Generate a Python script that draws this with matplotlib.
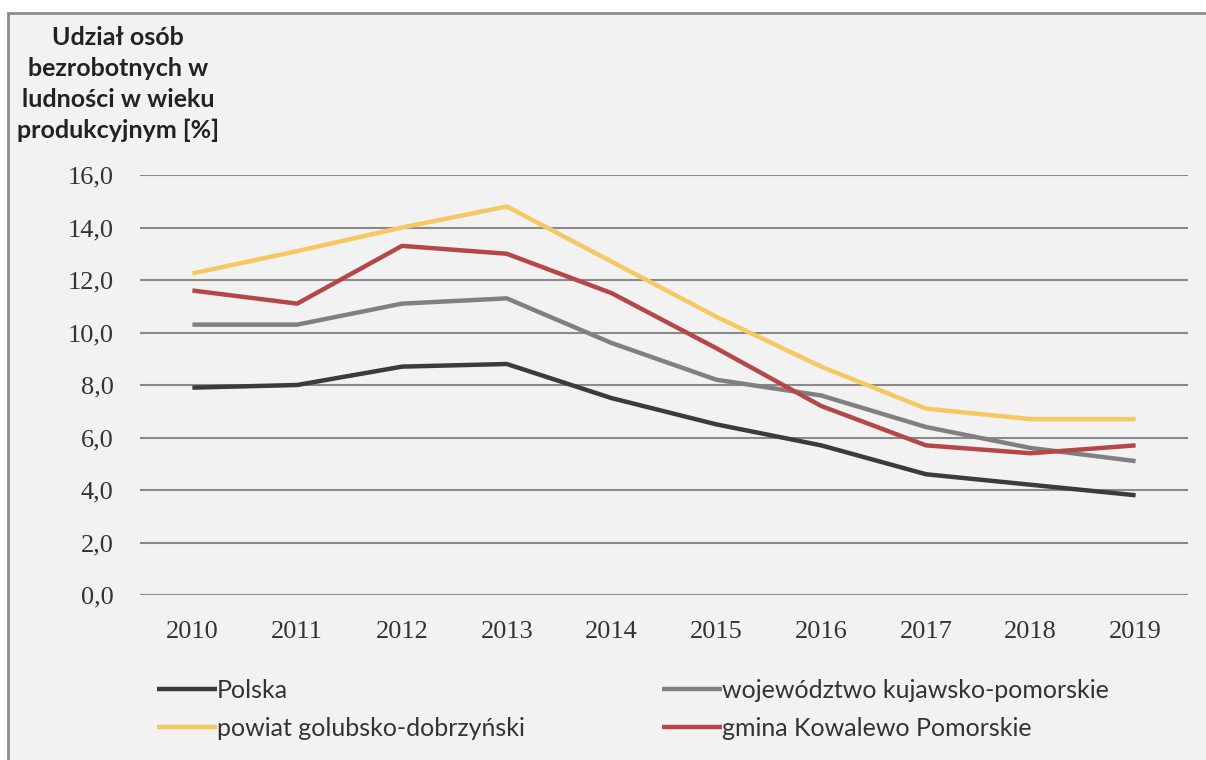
import matplotlib
matplotlib.use('Agg')
import matplotlib.pyplot as plt
from matplotlib.patches import Rectangle

years = [2010, 2011, 2012, 2013, 2014, 2015, 2016, 2017, 2018, 2019]
polska = [7.9, 8.0, 8.7, 8.8, 7.5, 6.5, 5.7, 4.6, 4.2, 3.8]
wojewodztwo = [10.3, 10.3, 11.1, 11.3, 9.6, 8.2, 7.6, 6.4, 5.6, 5.1]
powiat = [12.25, 13.1, 14.0, 14.8, 12.7, 10.6, 8.7, 7.1, 6.7, 6.7]
gmina = [11.6, 11.1, 13.3, 13.0, 11.5, 9.4, 7.2, 5.7, 5.4, 5.7]

series = [
    ("Polska", polska, "#3b3b3b"),
    ("województwo kujawsko-pomorskie", wojewodztwo, "#808080"),
    ("powiat golubsko-dobrzyński", powiat, "#f6c862"),
    ("gmina Kowalewo Pomorskie", gmina, "#b5474a"),
]

W, H = 1206, 760
fig = plt.figure(figsize=(W / 100, H / 100), dpi=100, facecolor="white")

# background panel with grey border (top and left only visible)
fig.patches.append(Rectangle((8 / W, -0.05), 1.1, 1 - 13 / H + 0.05,
                             transform=fig.transFigure, facecolor="#f2f2f2",
                             edgecolor="#8c8c8c", linewidth=2, zorder=-5))

ax = fig.add_axes([140 / W, 1 - 595 / H, (1188 - 140) / W, (595 - 175) / H])
ax.set_facecolor("none")
ax.set_xlim(2009.5, 2019.5)
ax.set_ylim(0, 16)

for spine in ax.spines.values():
    spine.set_visible(False)

ax.set_yticks(range(0, 17, 2))
ax.set_yticklabels([f"{v:.1f}".replace(".", ",") for v in range(0, 17, 2)])
ax.set_xticks(years)
ax.set_xticklabels([str(y) for y in years])
ax.tick_params(length=0, labelsize=19, colors="#333333")
ax.tick_params(axis="y", pad=19)
ax.tick_params(axis="x", pad=19)
for lbl in ax.get_xticklabels() + ax.get_yticklabels():
    lbl.set_family("Liberation Serif")

ax.yaxis.grid(True, color="#8a8a8a", linewidth=1.5)
ax.set_axisbelow(True)

handles = []
for name, vals, col in series:
    h, = ax.plot(years, vals, color=col, linewidth=3.2, label=name,
                 solid_capstyle="butt", clip_on=False)
    handles.append(h)

fig.text(118 / W, 1 - 26 / H,
         "Udział osób\nbezrobotnych w\nludności w wieku\nprodukcyjnym [%]",
         ha="center", va="top", fontsize=18, fontweight="bold",
         family="Lato", color="#222222", linespacing=1.42)

# two one-column legends, left and right
legprops = {"family": "Lato", "size": 18}
for hs, x0 in ((handles[0::2], 157), (handles[1::2], 662)):
    leg = fig.legend(handles=hs, loc="upper left",
                     bbox_to_anchor=(x0 / W, 1 - 679 / H), ncol=1,
                     frameon=False, handlelength=2.4, handletextpad=0.0,
                     labelspacing=0.6, borderaxespad=0, borderpad=0,
                     prop=legprops)
    for t in leg.get_texts():
        t.set_color("#333333")

fig.savefig("out.png", dpi=100, facecolor=fig.get_facecolor())
